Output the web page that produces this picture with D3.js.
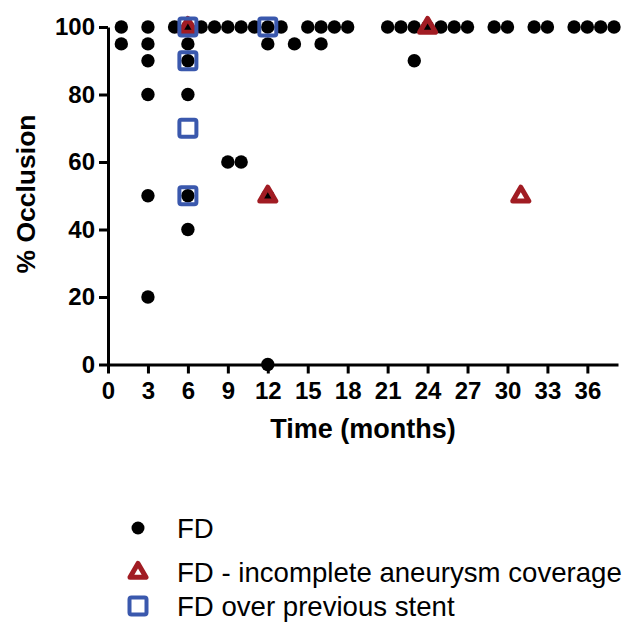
<!DOCTYPE html>
<html>
<head>
<meta charset="utf-8">
<script src="https://cdn.jsdelivr.net/npm/d3@7"></script>
<style>
  body { margin: 0; background: #fff; }
  svg text { font-family: "Liberation Sans", Arial, sans-serif; }
</style>
</head>
<body>
<svg id="occlusion_plot" width="627" height="624"></svg>
<script>
// ====================== DATA ======================
// [months, % occlusion]
let fdPoints = [
  [1, 100], [1, 95],
  [3, 100], [3, 95], [3, 90], [3, 80], [3, 50], [3, 20],
  [5, 100],
  [6, 100], [6, 95], [6, 90], [6, 80], [6, 50], [6, 40],
  [7, 100], [8, 100], [9, 100], [10, 100], [11, 100],
  [9, 60], [10, 60],
  [12, 100], [12, 95], [12, 50], [12, 0],
  [13, 100], [14, 95], [15, 100], [16, 100], [16, 95], [17, 100], [18, 100],
  [21, 100], [22, 100], [23, 100], [23, 90], [24, 100], [25, 100], [26, 100], [27, 100],
  [29, 100], [30, 100], [32, 100], [33, 100],
  [35, 100], [36, 100], [37, 100], [38, 100]
];
let incompletePoints = [[6, 100], [12, 50], [24, 100], [31, 50]];
let prevStentPoints = [[6, 100], [6, 90], [6, 70], [6, 50], [12, 100]];

let xTicks = [0, 3, 6, 9, 12, 15, 18, 21, 24, 27, 30, 33, 36];
let yTicks = [0, 20, 40, 60, 80, 100];

let legendLabels = ["FD", "FD - incomplete aneurysm coverage", "FD over previous stent"];

// ====================== SETUP ======================
let plot_left = 108;
let plot_right = 618;
let plot_top = 27;
let plot_bottom = 364.5;
let dotRadius = 6.7;
let redColor = "#a11c23";
let blueColor = "#3a58ad";

let xScale = d3.scaleLinear().domain([0, 38.3]).range([plot_left, plot_right]);
let yScale = d3.scaleLinear().domain([0, 100]).range([plot_bottom, plot_top]);

let svg = d3.select("#occlusion_plot");

// axes
let xAxis = svg.append("g")
  .attr("transform", `translate(0,${plot_bottom})`)
  .call(d3.axisBottom(xScale).tickValues(xTicks).tickSize(9).tickPadding(8).tickSizeOuter(0));

let yAxis = svg.append("g")
  .attr("transform", `translate(${plot_left},0)`)
  .call(d3.axisLeft(yScale).tickValues(yTicks).tickSize(9).tickPadding(4).tickSizeOuter(0));

[xAxis, yAxis].forEach(ax => {
  ax.select(".domain").attr("stroke", "#000").attr("stroke-width", 3);
  ax.selectAll(".tick line").attr("stroke", "#000").attr("stroke-width", 3);
  ax.selectAll(".tick text")
    .attr("fill", "#000")
    .style("font-family", "'Liberation Sans', Arial, sans-serif")
    .style("font-size", "24px")
    .style("font-weight", "bold");
});

// axis titles
svg.append("text")
  .attr("x", (plot_left + plot_right) / 2)
  .attr("y", 438)
  .attr("text-anchor", "middle")
  .style("font-size", "27px")
  .style("font-weight", "bold")
  .text("Time (months)");

svg.append("text")
  .attr("transform", `translate(35,${194}) rotate(-90)`)
  .attr("text-anchor", "middle")
  .style("font-size", "26.5px")
  .style("font-weight", "bold")
  .text("% Occlusion");

// ====================== MARKS ======================
let sqSize = 17;
let triPath = (cx, cy) => {
  let s = 16, h = s * Math.sqrt(3) / 2;
  return `M${cx},${cy - h * 0.62}L${cx + s / 2},${cy + h * 0.38}L${cx - s / 2},${cy + h * 0.38}Z`;
};

svg.append("g")
  .selectAll("circle")
  .data(fdPoints)
  .enter()
  .append("circle")
  .attr("cx", d => xScale(d[0]))
  .attr("cy", d => yScale(d[1]))
  .attr("r", dotRadius)
  .attr("fill", "#000");

svg.append("g")
  .selectAll("path")
  .data(incompletePoints)
  .enter()
  .append("path")
  .attr("d", d => triPath(xScale(d[0]), yScale(d[1])))
  .attr("fill", "none")
  .attr("stroke", redColor)
  .attr("stroke-width", 5)
  .attr("stroke-linejoin", "round");

svg.append("g")
  .selectAll("rect")
  .data(prevStentPoints)
  .enter()
  .append("rect")
  .attr("x", d => xScale(d[0]) - sqSize / 2)
  .attr("y", d => yScale(d[1]) - sqSize / 2)
  .attr("width", sqSize)
  .attr("height", sqSize)
  .attr("rx", 2)
  .attr("fill", "none")
  .attr("stroke", blueColor)
  .attr("stroke-width", 4);

// ====================== LEGEND ======================
let legendX = 138;
let legendY = [528, 572, 606];

svg.append("circle")
  .attr("cx", legendX).attr("cy", legendY[0]).attr("r", 6.5).attr("fill", "#000");
svg.append("path")
  .attr("d", triPath(legendX, legendY[1]))
  .attr("fill", "none").attr("stroke", redColor).attr("stroke-width", 5).attr("stroke-linejoin", "round");
svg.append("rect")
  .attr("x", legendX - sqSize / 2).attr("y", legendY[2] - sqSize / 2)
  .attr("width", sqSize).attr("height", sqSize).attr("rx", 2)
  .attr("fill", "none").attr("stroke", blueColor).attr("stroke-width", 4);

svg.append("g")
  .selectAll("text")
  .data(legendLabels)
  .enter()
  .append("text")
  .attr("x", 177)
  .attr("y", (d, i) => legendY[i] + 9.5)
  .style("font-size", "27.6px")
  .attr("fill", "#000")
  .text(d => d);
</script>
</body>
</html>
